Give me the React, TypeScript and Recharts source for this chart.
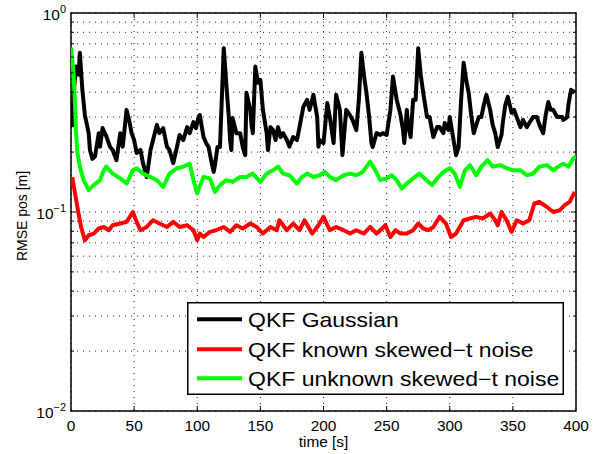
import React from 'react';
import { LineChart, Line, XAxis, YAxis, CartesianGrid, Legend, ReferenceArea } from 'recharts';

// ---------- data ----------
const GAUSS_T = [1, 2, 4, 6, 7, 9, 11, 14, 15, 17, 19, 22, 23, 25, 28, 31, 33, 36, 39, 41, 44, 46, 48, 50, 52, 55, 57, 60, 63, 65, 68, 70, 73, 76, 78, 81, 84, 86, 89, 92, 94, 97, 99, 101, 102, 105, 107, 109, 111, 113, 114, 116, 118, 121, 123, 125, 126, 127, 128, 131, 134, 136, 138, 139, 142, 143, 144, 146, 148, 150, 152, 155, 156, 158, 160, 162, 164, 166, 168, 171, 173, 176, 179, 181, 184, 187, 189, 192, 195, 196, 197, 200, 203, 205, 208, 210, 213, 215, 218, 221, 223, 226, 228, 230, 232, 234, 236, 238, 239, 242, 245, 247, 250, 253, 255, 258, 261, 263, 264, 266, 267, 269, 271, 273, 275, 277, 279, 282, 284, 287, 290, 292, 295, 296, 299, 300, 303, 305, 307, 309, 311, 313, 315, 317, 319, 321, 323, 325, 327, 329, 332, 334, 336, 338, 341, 342, 344, 346, 349, 351, 353, 356, 358, 361, 363, 366, 369, 371, 374, 376, 378, 380, 382, 385, 389, 390, 393, 394, 396, 399];
const GAUSS_V = [0.267, 0.388, 0.538, 0.49, 0.631, 0.411, 0.307, 0.249, 0.205, 0.185, 0.19, 0.249, 0.213, 0.264, 0.24, 0.212, 0.205, 0.182, 0.249, 0.213, 0.326, 0.29, 0.249, 0.23, 0.198, 0.205, 0.176, 0.15, 0.205, 0.23, 0.274, 0.249, 0.264, 0.213, 0.205, 0.176, 0.213, 0.244, 0.23, 0.267, 0.249, 0.283, 0.264, 0.3, 0.307, 0.238, 0.222, 0.212, 0.182, 0.159, 0.172, 0.212, 0.212, 0.666, 0.44, 0.3, 0.23, 0.205, 0.297, 0.249, 0.249, 0.212, 0.193, 0.397, 0.326, 0.274, 0.249, 0.538, 0.446, 0.461, 0.326, 0.249, 0.205, 0.267, 0.258, 0.23, 0.267, 0.238, 0.249, 0.23, 0.213, 0.238, 0.23, 0.267, 0.337, 0.366, 0.326, 0.388, 0.3, 0.213, 0.23, 0.222, 0.353, 0.3, 0.222, 0.388, 0.326, 0.193, 0.326, 0.307, 0.29, 0.258, 0.366, 0.631, 0.49, 0.397, 0.307, 0.222, 0.212, 0.249, 0.244, 0.249, 0.244, 0.326, 0.479, 0.366, 0.307, 0.258, 0.222, 0.326, 0.274, 0.238, 0.366, 0.366, 0.666, 0.49, 0.397, 0.3, 0.3, 0.238, 0.267, 0.267, 0.249, 0.28, 0.258, 0.3, 0.23, 0.193, 0.212, 0.366, 0.562, 0.461, 0.397, 0.307, 0.249, 0.274, 0.3, 0.3, 0.345, 0.388, 0.326, 0.274, 0.249, 0.212, 0.244, 0.28, 0.345, 0.379, 0.315, 0.326, 0.3, 0.267, 0.29, 0.267, 0.28, 0.3, 0.3, 0.274, 0.249, 0.307, 0.357, 0.326, 0.326, 0.3, 0.3, 0.29, 0.3, 0.345, 0.411, 0.4];

const KNOWN_T = [1, 3, 6, 8, 11, 14, 18, 22, 26, 30, 33, 39, 44, 49, 52, 55, 60, 65, 70, 76, 81, 86, 92, 97, 100, 102, 105, 110, 115, 121, 126, 131, 136, 142, 147, 152, 158, 163, 165, 171, 176, 181, 185, 191, 196, 200, 205, 210, 216, 221, 226, 232, 237, 242, 245, 249, 253, 257, 261, 266, 271, 275, 279, 283, 287, 292, 297, 301, 305, 311, 316, 321, 326, 332, 336, 338, 341, 345, 349, 353, 358, 363, 367, 371, 377, 382, 387, 391, 395, 399];
const KNOWN_V = [0.15, 0.126, 0.098, 0.084, 0.072, 0.0764, 0.0779, 0.0826, 0.0841, 0.081, 0.0858, 0.0875, 0.0892, 0.1, 0.0892, 0.081, 0.0841, 0.0909, 0.0875, 0.0841, 0.0892, 0.0841, 0.0858, 0.081, 0.0721, 0.0779, 0.0749, 0.0794, 0.081, 0.0841, 0.0794, 0.0858, 0.0826, 0.0875, 0.0841, 0.0779, 0.0841, 0.081, 0.0909, 0.081, 0.0875, 0.081, 0.0909, 0.0779, 0.0858, 0.0945, 0.081, 0.0841, 0.081, 0.0779, 0.081, 0.0779, 0.0841, 0.0779, 0.081, 0.0858, 0.0749, 0.081, 0.0779, 0.0779, 0.081, 0.0875, 0.0826, 0.081, 0.0841, 0.0945, 0.0875, 0.0749, 0.0779, 0.0909, 0.0927, 0.0945, 0.0927, 0.0983, 0.0909, 0.0858, 0.1, 0.0909, 0.0794, 0.0909, 0.0875, 0.0909, 0.1103, 0.1124, 0.106, 0.1, 0.102, 0.1082, 0.1124, 0.1262];

const UNKNOWN_T = [0, 2, 3, 4, 5, 7, 10, 14, 18, 23, 26, 28, 33, 39, 44, 49, 52, 57, 63, 68, 73, 78, 84, 89, 94, 97, 100, 102, 105, 110, 114, 118, 123, 128, 134, 139, 144, 150, 155, 160, 164, 168, 173, 179, 183, 187, 192, 197, 201, 205, 210, 216, 221, 226, 231, 237, 241, 245, 250, 254, 258, 262, 266, 271, 276, 280, 286, 290, 295, 300, 304, 308, 312, 316, 321, 325, 330, 334, 340, 345, 350, 356, 361, 366, 371, 377, 382, 386, 390, 394, 398, 400];
const UNKNOWN_V = [0.67, 0.5, 0.366, 0.25, 0.2, 0.169, 0.1446, 0.1287, 0.1365, 0.1446, 0.162, 0.169, 0.156, 0.1475, 0.139, 0.162, 0.166, 0.156, 0.15, 0.1446, 0.1338, 0.156, 0.166, 0.169, 0.175, 0.1446, 0.124, 0.135, 0.15, 0.1475, 0.1262, 0.1365, 0.1446, 0.1417, 0.15, 0.15, 0.156, 0.1417, 0.156, 0.162, 0.169, 0.156, 0.153, 0.139, 0.15, 0.156, 0.15, 0.153, 0.159, 0.15, 0.1446, 0.153, 0.156, 0.153, 0.159, 0.179, 0.162, 0.1446, 0.1475, 0.153, 0.1446, 0.1313, 0.139, 0.1475, 0.156, 0.1475, 0.1365, 0.1475, 0.159, 0.166, 0.156, 0.1338, 0.162, 0.172, 0.153, 0.169, 0.182, 0.169, 0.172, 0.166, 0.162, 0.162, 0.153, 0.156, 0.169, 0.172, 0.162, 0.169, 0.175, 0.169, 0.186, 0.19];

const SERIES_NAMES = ['QKF Gaussian', 'QKF known skewed\u2212t noise', 'QKF unknown skewed\u2212t noise'];
const X_TICKS = [0, 50, 100, 150, 200, 250, 300, 350, 400];
const Y_TICKS = [0.01, 0.02, 0.03, 0.04, 0.05, 0.06, 0.07, 0.08, 0.09, 0.1, 0.2, 0.3, 0.4, 0.5, 0.6, 0.7, 0.8, 0.9, 1];
const X_LABEL = 'time [s]';
const Y_LABEL = 'RMSE pos [m]';

// ---------- styles ----------
const W = 602;
const H = 454;
const PLOT_LEFT = 71;
const PLOT_RIGHT = 576;
const PLOT_TOP = 13;
const PLOT_BOTTOM = 411;
const FONT = '"Liberation Sans", Arial, Helvetica, sans-serif';
const SX = 1.1;
const COLORS = ['#000000', '#ff0000', '#00ff00'];
const TICK_MAJOR = 5;
const TICK_MINOR = 3;
const LINE_W = 4;

const toPoints = (ts: number[], vs: number[]) => ts.map((t, i) => ({ t, v: vs[i] }));
const gaussData = toPoints(GAUSS_T, GAUSS_V);
const knownData = toPoints(KNOWN_T, KNOWN_V);
const unknownData = toPoints(UNKNOWN_T, UNKNOWN_V);

const XTick = (props: any) => {
  const { x, y, payload } = props;
  const v = payload.value;
  const edge = v === X_TICKS[0] || v === X_TICKS[X_TICKS.length - 1];
  return (
    <g>
      {!edge && <line x1={x} x2={x} y1={y} y2={y - TICK_MAJOR} stroke="#000" strokeWidth={1} />}
      {!edge && <line x1={x} x2={x} y1={PLOT_TOP} y2={PLOT_TOP + TICK_MAJOR} stroke="#000" strokeWidth={1} />}
      <text
        transform={`translate(${x},${y + 19.5}) scale(${SX},1)`}
        textAnchor="middle"
        fontSize={14}
        fontFamily={FONT}
        fill="#000"
      >
        {v}
      </text>
    </g>
  );
};

const YTick = (props: any) => {
  const { x, y, payload } = props;
  const v = payload.value;
  const exp = Math.round(Math.log10(v));
  const major = Math.abs(v - Math.pow(10, exp)) < 1e-9;
  const len = major ? TICK_MAJOR : TICK_MINOR;
  const edge = v === Y_TICKS[0] || v === Y_TICKS[Y_TICKS.length - 1];
  const expText = exp < 0 ? `\u2212${Math.abs(exp)}` : `${exp}`;
  return (
    <g>
      {!edge && <line x1={x} x2={x + len} y1={y} y2={y} stroke="#000" strokeWidth={1} />}
      {!edge && <line x1={PLOT_RIGHT} x2={PLOT_RIGHT - len} y1={y} y2={y} stroke="#000" strokeWidth={1} />}
      {major && (
        <text
          transform={`translate(${x - 5},${y + 7}) scale(${SX},1)`}
          textAnchor="end"
          fontSize={14}
          fontFamily={FONT}
          fill="#000"
        >
          <tspan>10</tspan>
          <tspan dy={-7} fontSize={10}>{expText}</tspan>
        </text>
      )}
    </g>
  );
};

const XLabel = (props: any) => {
  const vb = props.viewBox || { x: PLOT_LEFT, y: PLOT_BOTTOM, width: PLOT_RIGHT - PLOT_LEFT };
  const cx = vb.x + vb.width / 2;
  return (
    <text
      transform={`translate(${cx},${PLOT_BOTTOM + 36}) scale(${SX},1)`}
      textAnchor="middle"
      fontSize={14}
      fontFamily={FONT}
      fill="#000"
    >
      {X_LABEL}
    </text>
  );
};

const YLabel = () => (
  <text
    transform={`translate(22,216) scale(${SX},1) rotate(-90)`}
    textAnchor="middle"
    dominantBaseline="central"
    fontSize={14}
    fontFamily={FONT}
    fill="#000"
  >
    {Y_LABEL}
  </text>
);

const LEG_W = 377;
const LEG_H = 93;
const LEG_ROWS = [17.3, 47.3, 76.3];

const renderLegend = (props: any) => {
  const payload = (props.payload || []) as any[];
  const items = SERIES_NAMES.map((name, i) => {
    const p = payload.find((e) => e.value === name);
    return { name, color: p ? p.color : COLORS[i] };
  });
  return (
    <svg width={LEG_W} height={LEG_H} style={{ display: 'block' }}>
      <rect x={0.75} y={0.75} width={LEG_W - 1.5} height={LEG_H - 1.5} fill="#fff" stroke="#000" strokeWidth={1.5} />
      {items.map((it, i) => (
        <g key={it.name}>
          <line x1={10} x2={55} y1={LEG_ROWS[i]} y2={LEG_ROWS[i]} stroke={it.color} strokeWidth={4} />
          <text
            transform={`translate(61,${LEG_ROWS[i] + 7.4}) scale(1.15,1)`}
            fontSize={20}
            fontFamily={FONT}
            fill="#000"
          >
            {it.name}
          </text>
        </g>
      ))}
    </svg>
  );
};

export default function App() {
  return (
    <div style={{ position: 'absolute', left: 0, top: 0, width: W, height: H, background: '#fff', fontFamily: FONT }}>
      <LineChart
        width={W}
        height={H}
        margin={{ top: PLOT_TOP, right: W - PLOT_RIGHT, bottom: 0, left: 0 }}
      >
        <CartesianGrid stroke="#222" strokeDasharray="1 5" strokeWidth={1} />
        <XAxis
          type="number"
          dataKey="t"
          domain={[0, 400]}
          ticks={X_TICKS}
          interval={0}
          height={H - PLOT_BOTTOM}
          axisLine={false}
          tickLine={false}
          tickSize={0}
          tickMargin={0}
          tick={<XTick />}
          label={<XLabel />}
          allowDataOverflow
        />
        <YAxis
          type="number"
          scale="log"
          domain={[0.01, 1]}
          ticks={Y_TICKS}
          interval={0}
          width={PLOT_LEFT}
          axisLine={false}
          tickLine={false}
          tickSize={0}
          tickMargin={0}
          tick={<YTick />}
          label={<YLabel />}
          allowDataOverflow
        />
        <Line
          data={gaussData}
          dataKey="v"
          name={SERIES_NAMES[0]}
          stroke={COLORS[0]}
          strokeWidth={LINE_W}
          strokeLinejoin="round"
          dot={false}
          activeDot={false}
          isAnimationActive={false}
          type="linear"
        />
        <Line
          data={knownData}
          dataKey="v"
          name={SERIES_NAMES[1]}
          stroke={COLORS[1]}
          strokeWidth={LINE_W}
          strokeLinejoin="round"
          dot={false}
          activeDot={false}
          isAnimationActive={false}
          type="linear"
        />
        <Line
          data={unknownData}
          dataKey="v"
          name={SERIES_NAMES[2]}
          stroke={COLORS[2]}
          strokeWidth={LINE_W}
          strokeLinejoin="round"
          dot={false}
          activeDot={false}
          isAnimationActive={false}
          type="linear"
        />
        <ReferenceArea x1={0} x2={400} y1={0.01} y2={1} fill="none" stroke="#000" strokeWidth={1.5} ifOverflow="visible" />
        <Legend
          layout="vertical"
          align="center"
          verticalAlign="middle"
          wrapperStyle={{ left: 187, top: 302, width: LEG_W, height: LEG_H }}
          content={renderLegend}
        />
      </LineChart>
    </div>
  );
}
